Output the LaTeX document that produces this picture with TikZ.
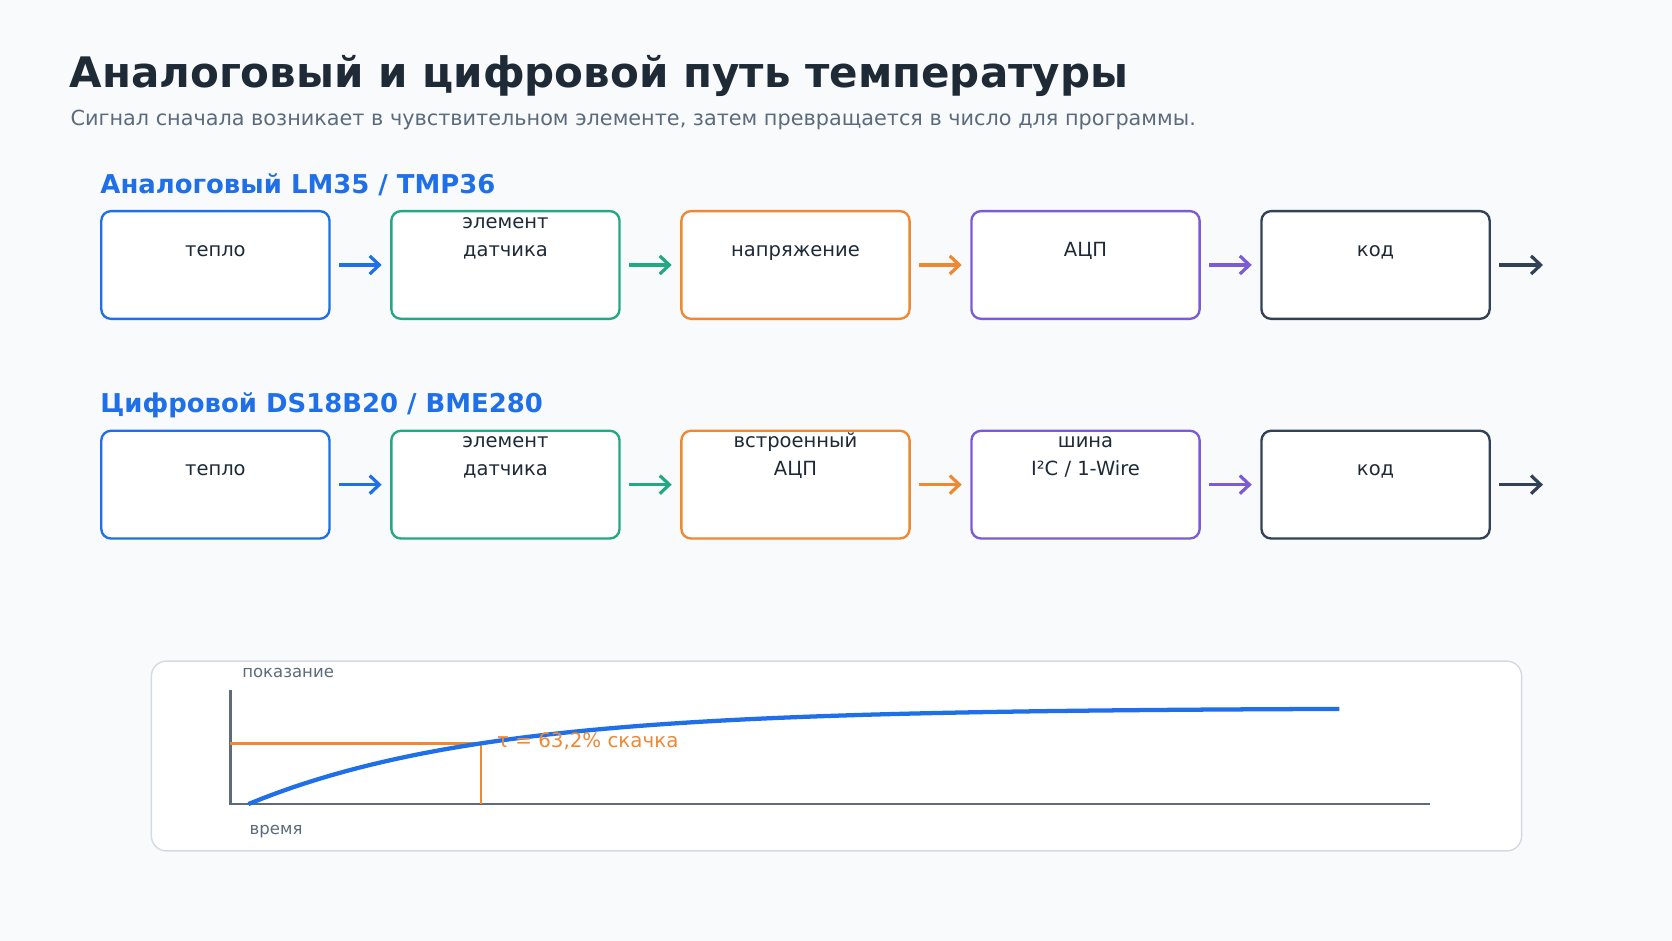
\documentclass[tikz,border=0pt]{standalone}
\usepackage{fontspec}
\setmainfont{DejaVu Sans}
\usetikzlibrary{arrows.meta}
\definecolor{bg}{HTML}{F8FAFC}
\definecolor{cblue}{HTML}{1F6FE8}
\definecolor{cgreen}{HTML}{22A883}
\definecolor{corange}{HTML}{EE8833}
\definecolor{cpurple}{HTML}{7B5BD6}
\definecolor{cdark}{HTML}{334155}
\definecolor{ctitle}{HTML}{1F2A37}
\definecolor{csub}{HTML}{5B6B7C}
\definecolor{caxis}{HTML}{5F6B7A}
\definecolor{cpanel}{HTML}{D3DAE2}
\begin{document}
\begin{tikzpicture}[x=1pt,y=-1pt,
  box/.style={draw=#1,line width=2.2pt,rounded corners=9pt,fill=white,minimum width=214pt,minimum height=101pt,inner sep=0pt},
  lbl/.style={anchor=north,align=center,font=\fontsize{18.3}{26}\selectfont,text=ctitle,inner sep=0pt,text height=14pt},
  arr/.style={draw=#1,line width=3pt,-{Straight Barb[length=9pt,width=17pt,line width=3pt]},shorten <=8pt,shorten >=8pt},
  head/.style={anchor=base west,font=\fontsize{24.3}{28}\bfseries\selectfont,text=cblue,inner sep=0pt}]
\fill[bg] (0,0) rectangle (1568,882);
\useasboundingbox (0,0) rectangle (1568,882);
\node[anchor=base west,inner sep=0pt,font=\fontsize{39.4}{44}\bfseries\selectfont,text=ctitle] (title) at (65,82) {Аналоговый и цифровой путь температуры};
\node[anchor=base west,inner sep=0pt,font=\fontsize{19.5}{22}\selectfont,text=csub] (sub) at (66,118) {Сигнал сначала возникает в чувствительном элементе, затем превращается в число для программы.};
\node[head] (h1) at (94,181) {Аналоговый LM35 / TMP36};
\node[head] (h2) at (94,387) {Цифровой DS18B20 / BME280};
\foreach \i/\c/\t in {1/cblue/тепло,2/cgreen/элемент\\датчика,3/corange/напряжение,4/cpurple/АЦП,5/cdark/код}{
  \node[box=\c] (a\i) at ({202+272*(\i-1)},248.5) {};
  \node[lbl] (la\i) at ([yshift=-29pt]a\i.north) {\t};
}
\foreach \i/\c/\t in {1/cblue/тепло,2/cgreen/элемент\\датчика,3/corange/встроенный\\АЦП,4/cpurple/{шина\\I²C / 1-Wire},5/cdark/код}{
  \node[box=\c] (b\i) at ({202+272*(\i-1)},454.5) {};
  \node[lbl] (lb\i) at ([yshift=-29pt]b\i.north) {\t};
}
\coordinate (ae) at (1455,248.5);
\coordinate (be) at (1455,454.5);
\draw[arr=cblue] (a1.east) -- (a2.west);
\draw[arr=cgreen] (a2.east) -- (a3.west);
\draw[arr=corange] (a3.east) -- (a4.west);
\draw[arr=cpurple] (a4.east) -- (a5.west);
\draw[arr=cdark] (a5.east) -- (ae);
\draw[arr=cblue] (b1.east) -- (b2.west);
\draw[arr=cgreen] (b2.east) -- (b3.west);
\draw[arr=corange] (b3.east) -- (b4.west);
\draw[arr=cpurple] (b4.east) -- (b5.west);
\draw[arr=cdark] (b5.east) -- (be);
\draw[cpanel,line width=1.3pt,fill=white,rounded corners=14pt] (142,620) rectangle (1427,798);
\node[anchor=base west,inner sep=0pt,font=\fontsize{15.5}{18}\selectfont,text=csub] (ylab) at (227,635) {показание};
\node[anchor=base west,inner sep=0pt,font=\fontsize{15.5}{18}\selectfont,text=csub] (xlab) at (234,783) {время};
\draw[caxis,line width=2.5pt] (216,647) -- (216,754) -- (1341,754);
\draw[corange,line width=2.5pt] (216,697) -- (451,697) -- (451,754);
\draw[cblue,line width=4pt,domain=233:1256,samples=80] plot (\x,{754-90*(1-exp(-(\x-233)/218))});
\node[anchor=base west,inner sep=0pt,font=\fontsize{18.6}{20}\selectfont,text=corange] (tau) at (466,701) {τ = 63,2\% скачка};
\end{tikzpicture}
\end{document}
